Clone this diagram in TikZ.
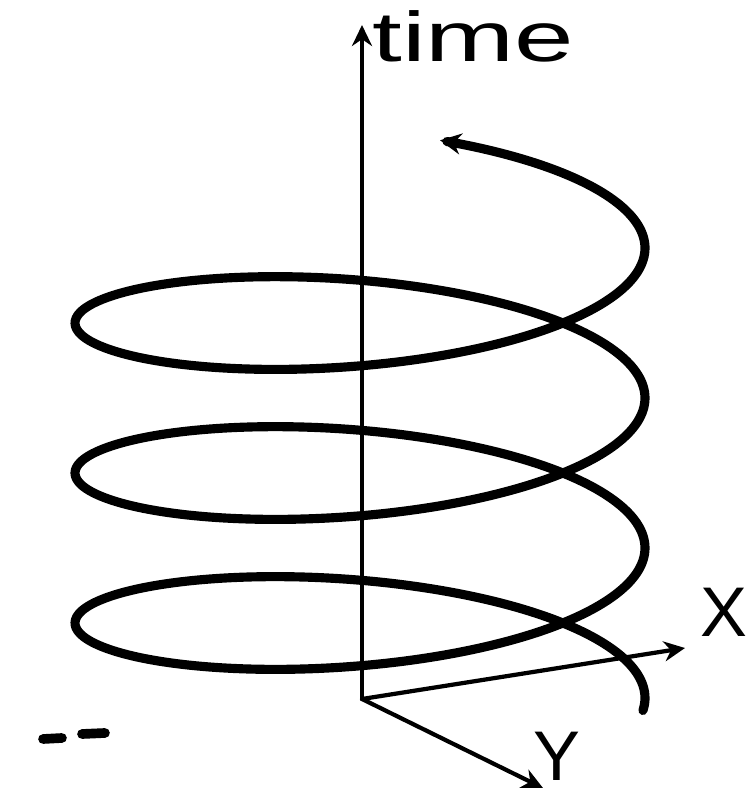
\documentclass[tikz,border=0pt]{standalone}
\usepackage{fontspec}
\setmainfont{Liberation Sans}
\usetikzlibrary{arrows.meta}
\tikzset{
  axis/.style={line width=2.4pt, -{Stealth[length=0.42cm,width=0.4cm]}},
  spiral/.style={line width=5.2pt, -{Stealth[length=0.42cm,width=0.42cm]}},
  lbl/.style={font=\fontsize{40}{48}\selectfont, inner sep=0pt}
}
\begin{document}
\begin{tikzpicture}[line join=round, line cap=round]
  \useasboundingbox (-7.24,-1.96) rectangle (7.7,13.98);
  %%%%%%%%%%%%%%%%%%%%%%%%%%%%%%%%%
  \coordinate (O) at (0,0);
  \coordinate (T) at (0,13.48);
  \coordinate (X) at (6.46,1.02);
  \coordinate (Y) at (3.62,-1.78);
  %%%%%%%%%%%%%%%%%%%%%%%%%%%%%%%%%
  \draw[axis] (O) -- (T);
  \draw[axis] (O) -- (X);
  \draw[axis] (O) -- (Y);
  %%%%%%%%%%%%%%%%%%%%%%%%%%%%%%%%%
  \node[lbl, anchor=base west, xscale=1.52] (time) at (0.2,12.74) {time};
  \node[lbl] (xlab) at (7.24,1.74) {X};
  \node[lbl] (ylab) at (3.9,-1.14) {Y};
  %%%%%%%%%%%%%%%%%%%%%%%%%%%%%%%%%
  \draw[spiral] plot[domain=-0.12:20.14, samples=400, smooth, variable=\t]
    ({-0.04+5.7*cos(\t r)}, {0.02+0.4774*\t+1.606*sin(\t r)});
  %%%%%%%%%%%%%%%%%%%%%%%%%%%%%%%%%
  \draw[line width=5.5pt] (-6.38,-0.8) -- (-6.0,-0.78);
  \draw[line width=5.5pt] (-5.6,-0.7) -- (-5.14,-0.68);
\end{tikzpicture}
\end{document}
